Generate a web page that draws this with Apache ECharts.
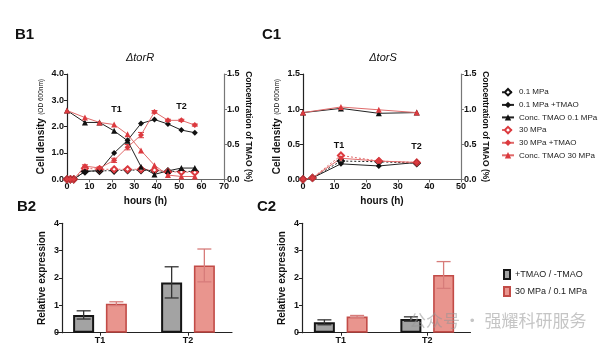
<!DOCTYPE html>
<html>
<head>
<meta charset="utf-8">
<script src="https://cdn.jsdelivr.net/npm/echarts@6/dist/echarts.min.js"></script>
<style>
  html, body { margin: 0; padding: 0; background: #fff; }
  #chart { width: 600px; height: 346px; }
</style>
</head>
<body>
<div id="chart"></div>
<script>
// ---- ΔtorR growth (B1) ----
const hoursR = [0, 1.5, 3, 8, 14.5, 21, 27, 33, 39, 45, 51, 57];
const hoursRConc = [0, 8, 14.5, 21, 27, 33, 39, 45, 51, 57];
const odR_01 = [0, 0, 0, 0.30, 0.32, 0.33, 0.35, 0.35, 0.33, 0.30, 0.30, 0.30];
const odR_01T = [0, 0, 0, 0.30, 0.33, 1.00, 1.48, 2.12, 2.27, 2.10, 1.87, 1.77];
const odR_30 = [0, 0, 0, 0.42, 0.38, 0.38, 0.38, 0.38, 0.35, 0.28, 0.28, 0.26];
const odR_30T = [0, 0, 0, 0.50, 0.43, 0.72, 1.22, 1.68, 2.56, 2.24, 2.24, 2.06];
const odR_30TSd = [0, 0, 0, 0.05, 0.04, 0.08, 0.10, 0.10, 0.05, 0.04, 0.04, 0.04];
const concR_01 = [0.98, 0.81, 0.81, 0.69, 0.55, 0.18, 0.07, 0.12, 0.16, 0.16];
const concR_30 = [0.98, 0.88, 0.81, 0.78, 0.64, 0.41, 0.20, 0.06, 0.04, 0.04];

// ---- ΔtorS growth (C1) ----
const hoursS = [0, 3, 12, 24, 36];
const hoursSConc = [0, 12, 24, 36];
const odS_01 = [0, 0.02, 0.26, 0.25, 0.23];
const odS_01T = [0, 0.02, 0.22, 0.19, 0.24];
const odS_30 = [0, 0.02, 0.34, 0.26, 0.24];
const odS_30T = [0, 0.02, 0.30, 0.26, 0.24];
const concS_01 = [0.95, 1.01, 0.94, 0.95];
const concS_30 = [0.95, 1.03, 0.99, 0.95];

// ---- relative expression (B2, C2) ----
const timePoints = ['T1', 'T2'];
const exprR_tmao = [0.65, 1.84];
const exprR_tmaoSd = [0.15, 0.57];
const exprR_press = [1.06, 2.46];
const exprR_pressSd = [0.07, 0.60];
const exprS_tmao = [0.38, 0.50];
const exprS_tmaoSd = [0.09, 0.08];
const exprS_press = [0.59, 2.11];
const exprS_pressSd = [0.04, 0.49];

// ---- tick values ----
const odTicksR = [0, 1, 2, 3, 4];
const concTicks = [0, 0.5, 1.0, 1.5];

const FONT = 'Liberation Sans';
const BLACK = '#111';
const RED = '#dc3a3f';
const RED_LINE = '#e06a6a';

const names = ['0.1 MPa', '0.1 MPa +TMAO', 'Conc. TMAO 0.1 MPa', '30 MPa', '30 MPa +TMAO', 'Conc. TMAO 30 MPa'];
const barNames = ['+TMAO / -TMAO', '30 MPa / 0.1 MPa'];

const pairs = (xs, ys) => xs.map((x, i) => [x, ys[i]]);

const tickLabel = { fontFamily: FONT, fontWeight: 'bold', fontSize: 9, color: '#111', margin: 3 };
const axisLine = (c) => ({ show: true, lineStyle: { color: c, width: 1.2 } });
const axisTick = (c) => ({ show: true, length: 3, lineStyle: { color: c, width: 1 } });
const nameStyle = { fontFamily: FONT, fontWeight: 'bold', fontSize: 10, color: '#111' };
const concNameStyle = { fontFamily: FONT, fontWeight: 'bold', fontSize: 8.5, color: '#111' };
const odName = {
  name: '{a|Cell density} {b|(OD 600nm)}',
  nameLocation: 'middle',
  nameRotate: 90,
  nameTextStyle: {
    rich: {
      a: { fontFamily: FONT, fontWeight: 'bold', fontSize: 10, color: '#111' },
      b: { fontFamily: FONT, fontSize: 6.5, color: '#111' }
    }
  }
};

function lineSeries(name, xi, yi, xs, ys, kind) {
  const isRed = name.indexOf('30') === 0 || name.indexOf('30 MPa') > 0;
  const col = isRed ? RED : BLACK;
  const s = {
    name, type: 'line', xAxisIndex: xi, yAxisIndex: yi,
    data: pairs(xs, ys), symbolSize: 6, z: 3,
    itemStyle: { color: col },
    lineStyle: { color: isRed ? RED_LINE : '#222', width: 1 }
  };
  if (kind === 'open') {
    s.symbol = 'emptyDiamond';
    s.itemStyle = { color: col, borderColor: col, borderWidth: 1 };
    s.lineStyle.type = [2, 2];
  } else if (kind === 'filled') {
    s.symbol = 'diamond';
  } else {
    s.symbol = 'triangle';
  }
  return s;
}

// Vertical error bars at (x, mean ± sd) on value axes
function pointErrors(xi, yi, xs, means, sds, color) {
  return {
    type: 'custom', xAxisIndex: xi, yAxisIndex: yi, z: 2, silent: true,
    data: xs.map((x, i) => [x, means[i], sds[i]]),
    renderItem(params, api) {
      const x = api.value(0), m = api.value(1), sd = api.value(2);
      if (!sd) return null;
      const top = api.coord([x, m + sd]);
      const bot = api.coord([x, m - sd]);
      const st = { stroke: color, lineWidth: 1 };
      return {
        type: 'group', children: [
          { type: 'line', shape: { x1: top[0], y1: top[1], x2: bot[0], y2: bot[1] }, style: st },
          { type: 'line', shape: { x1: top[0] - 3, y1: top[1], x2: top[0] + 3, y2: top[1] }, style: st },
          { type: 'line', shape: { x1: bot[0] - 3, y1: bot[1], x2: bot[0] + 3, y2: bot[1] }, style: st }
        ]
      };
    }
  };
}

// Error bars drawn over the bars of one series
const BAR_W = 21, BAR_GAP = 11.7;
function errorSeries(xi, yi, means, sds, side, color) {
  return {
    type: 'custom', xAxisIndex: xi, yAxisIndex: yi, z: 5, silent: true,
    data: means.map((m, i) => [i, m, sds[i]]),
    renderItem(params, api) {
      const c = api.value(0), m = api.value(1), sd = api.value(2);
      const x = api.coord([c, m])[0] + side * (BAR_W + BAR_GAP) / 2;
      const yTop = api.coord([c, m + sd])[1];
      const yBot = api.coord([c, m - sd])[1];
      const st = { stroke: color, lineWidth: 1.3 };
      return {
        type: 'group', children: [
          { type: 'line', shape: { x1: x, y1: yTop, x2: x, y2: yBot }, style: st },
          { type: 'line', shape: { x1: x - 7, y1: yTop, x2: x + 7, y2: yTop }, style: st },
          { type: 'line', shape: { x1: x - 7, y1: yBot, x2: x + 7, y2: yBot }, style: st }
        ]
      };
    }
  };
}

function barSeries(name, xi, yi, vals, red) {
  return {
    name, type: 'bar', xAxisIndex: xi, yAxisIndex: yi, data: vals,
    barWidth: BAR_W, barGap: (BAR_GAP / BAR_W * 100).toFixed(0) + '%',
    itemStyle: red
      ? { color: '#e9958e', borderColor: '#c24b47', borderWidth: 1.6 }
      : { color: '#a3a3a3', borderColor: '#151515', borderWidth: 2 }
  };
}

const chart = echarts.init(document.getElementById('chart'), null, { renderer: 'canvas' });

const option = {
  animation: false,
  backgroundColor: '#fff',
  textStyle: { fontFamily: FONT },
  grid: [
    { left: 67, top: 74, width: 157, height: 105.3 },
    { left: 303, top: 74, width: 158, height: 105.3 },
    { left: 56, top: 223.3, width: 176, height: 109.4 },
    { left: 297.5, top: 223.3, width: 173, height: 109.4 }
  ],
  xAxis: [
    { type: 'value', gridIndex: 0, min: 0, max: 70, interval: 10,
      name: 'hours (h)', nameLocation: 'middle', nameGap: 17, nameTextStyle: nameStyle,
      axisLine: axisLine('#666'), axisTick: axisTick('#666'), axisLabel: tickLabel, splitLine: { show: false } },
    { type: 'value', gridIndex: 1, min: 0, max: 50, interval: 10,
      name: 'hours (h)', nameLocation: 'middle', nameGap: 17, nameTextStyle: nameStyle,
      axisLine: axisLine('#666'), axisTick: axisTick('#666'), axisLabel: tickLabel, splitLine: { show: false } },
    { type: 'category', gridIndex: 2, data: timePoints,
      axisLine: axisLine('#222'), axisTick: { show: true, alignWithLabel: true, length: 3, lineStyle: { color: '#222' } },
      axisLabel: tickLabel },
    { type: 'category', gridIndex: 3, data: timePoints,
      axisLine: axisLine('#222'), axisTick: { show: true, alignWithLabel: true, length: 3, lineStyle: { color: '#222' } },
      axisLabel: tickLabel }
  ],
  yAxis: [
    Object.assign({ type: 'value', gridIndex: 0, min: odTicksR[0], max: odTicksR[odTicksR.length - 1], interval: 1,
      nameGap: 17, axisLine: axisLine('#222'), axisTick: axisTick('#222'),
      axisLabel: Object.assign({}, tickLabel, { formatter: v => v.toFixed(1) }), splitLine: { show: false } }, odName),
    { type: 'value', gridIndex: 0, position: 'right', min: concTicks[0], max: concTicks[concTicks.length - 1], interval: 0.5,
      name: 'Concentration of TMAO (%)', nameLocation: 'middle', nameRotate: -90, nameGap: 16, nameTextStyle: concNameStyle,
      axisLine: axisLine('#777'), axisTick: axisTick('#777'),
      axisLabel: Object.assign({}, tickLabel, { formatter: v => v.toFixed(1) }), splitLine: { show: false } },
    Object.assign({ type: 'value', gridIndex: 1, min: 0, max: 1.5, interval: 0.5,
      nameGap: 16, axisLine: axisLine('#222'), axisTick: axisTick('#222'),
      axisLabel: Object.assign({}, tickLabel, { formatter: v => v.toFixed(1) }), splitLine: { show: false } }, odName),
    { type: 'value', gridIndex: 1, position: 'right', min: concTicks[0], max: concTicks[concTicks.length - 1], interval: 0.5,
      name: 'Concentration of TMAO (%)', nameLocation: 'middle', nameRotate: -90, nameGap: 16, nameTextStyle: concNameStyle,
      axisLine: axisLine('#777'), axisTick: axisTick('#777'),
      axisLabel: Object.assign({}, tickLabel, { formatter: v => v.toFixed(1) }), splitLine: { show: false } },
    { type: 'value', gridIndex: 2, min: 0, max: 4, interval: 1, offset: -6,
      name: 'Relative expression', nameLocation: 'middle', nameRotate: 90, nameGap: 15, nameTextStyle: nameStyle,
      axisLine: axisLine('#222'), axisTick: axisTick('#222'), axisLabel: tickLabel, splitLine: { show: false } },
    { type: 'value', gridIndex: 3, min: 0, max: 4, interval: 1, offset: -4.5,
      name: 'Relative expression', nameLocation: 'middle', nameRotate: 90, nameGap: 15, nameTextStyle: nameStyle,
      axisLine: axisLine('#222'), axisTick: axisTick('#222'), axisLabel: tickLabel, splitLine: { show: false } }
  ],
  legend: [
    { data: names, orient: 'vertical', left: 501, top: 88, padding: 0, itemGap: 4.5, itemWidth: 12, itemHeight: 8,
      textStyle: { fontFamily: FONT, fontSize: 8, color: '#222' } },
    { data: barNames, orient: 'vertical', left: 503, top: 269, padding: 0, itemGap: 6, itemWidth: 6, itemHeight: 9, icon: 'rect',
      textStyle: { fontFamily: FONT, fontSize: 9, color: '#222' } }
  ],
  series: [
    lineSeries(names[0], 0, 0, hoursR, odR_01, 'open'),
    lineSeries(names[3], 0, 0, hoursR, odR_30, 'open'),
    lineSeries(names[1], 0, 0, hoursR, odR_01T, 'filled'),
    lineSeries(names[4], 0, 0, hoursR, odR_30T, 'filled'),
    lineSeries(names[2], 0, 1, hoursRConc, concR_01, 'tri'),
    lineSeries(names[5], 0, 1, hoursRConc, concR_30, 'tri'),
    pointErrors(0, 0, hoursR, odR_30T, odR_30TSd, RED),

    lineSeries(names[0], 1, 2, hoursS, odS_01, 'open'),
    lineSeries(names[3], 1, 2, hoursS, odS_30, 'open'),
    lineSeries(names[1], 1, 2, hoursS, odS_01T, 'filled'),
    lineSeries(names[4], 1, 2, hoursS, odS_30T, 'filled'),
    lineSeries(names[2], 1, 3, hoursSConc, concS_01, 'tri'),
    lineSeries(names[5], 1, 3, hoursSConc, concS_30, 'tri'),

    barSeries(barNames[0], 2, 4, exprR_tmao, false),
    barSeries(barNames[1], 2, 4, exprR_press, true),
    errorSeries(2, 4, exprR_tmao, exprR_tmaoSd, -1, '#333'),
    errorSeries(2, 4, exprR_press, exprR_pressSd, 1, '#d77c7a'),

    barSeries(barNames[0], 3, 5, exprS_tmao, false),
    barSeries(barNames[1], 3, 5, exprS_press, true),
    errorSeries(3, 5, exprS_tmao, exprS_tmaoSd, -1, '#333'),
    errorSeries(3, 5, exprS_press, exprS_pressSd, 1, '#d77c7a')
  ],
  graphic: [
    { type: 'text', left: 15, top: 27, style: { text: 'B1', font: 'bold 15px "Liberation Sans"', fill: '#111' } },
    { type: 'text', left: 262, top: 27, style: { text: 'C1', font: 'bold 15px "Liberation Sans"', fill: '#111' } },
    { type: 'text', left: 17, top: 199, style: { text: 'B2', font: 'bold 15px "Liberation Sans"', fill: '#111' } },
    { type: 'text', left: 257, top: 199, style: { text: 'C2', font: 'bold 15px "Liberation Sans"', fill: '#111' } },
    { type: 'text', x: 140, y: 58, style: { text: 'ΔtorR', font: 'italic 11px "Liberation Sans"', fill: '#111', align: 'center', verticalAlign: 'middle' } },
    { type: 'text', x: 383, y: 58, style: { text: 'ΔtorS', font: 'italic 11px "Liberation Sans"', fill: '#111', align: 'center', verticalAlign: 'middle' } },
    { type: 'text', x: 116.5, y: 110, style: { text: 'T1', font: 'bold 9px "Liberation Sans"', fill: '#111', align: 'center', verticalAlign: 'middle' } },
    { type: 'text', x: 181.5, y: 107, style: { text: 'T2', font: 'bold 9px "Liberation Sans"', fill: '#111', align: 'center', verticalAlign: 'middle' } },
    { type: 'text', x: 339, y: 146, style: { text: 'T1', font: 'bold 9px "Liberation Sans"', fill: '#111', align: 'center', verticalAlign: 'middle' } },
    { type: 'text', x: 416.5, y: 146.5, style: { text: 'T2', font: 'bold 9px "Liberation Sans"', fill: '#111', align: 'center', verticalAlign: 'middle' } },
    { type: 'text', left: 409, top: 312, z: 100,
      style: { text: '公众号 · 强耀科研服务', font: '17px "Noto Sans CJK SC"', fill: 'rgba(150,150,150,0.55)' } }
  ]
};

chart.setOption(option);
</script>
</body>
</html>
